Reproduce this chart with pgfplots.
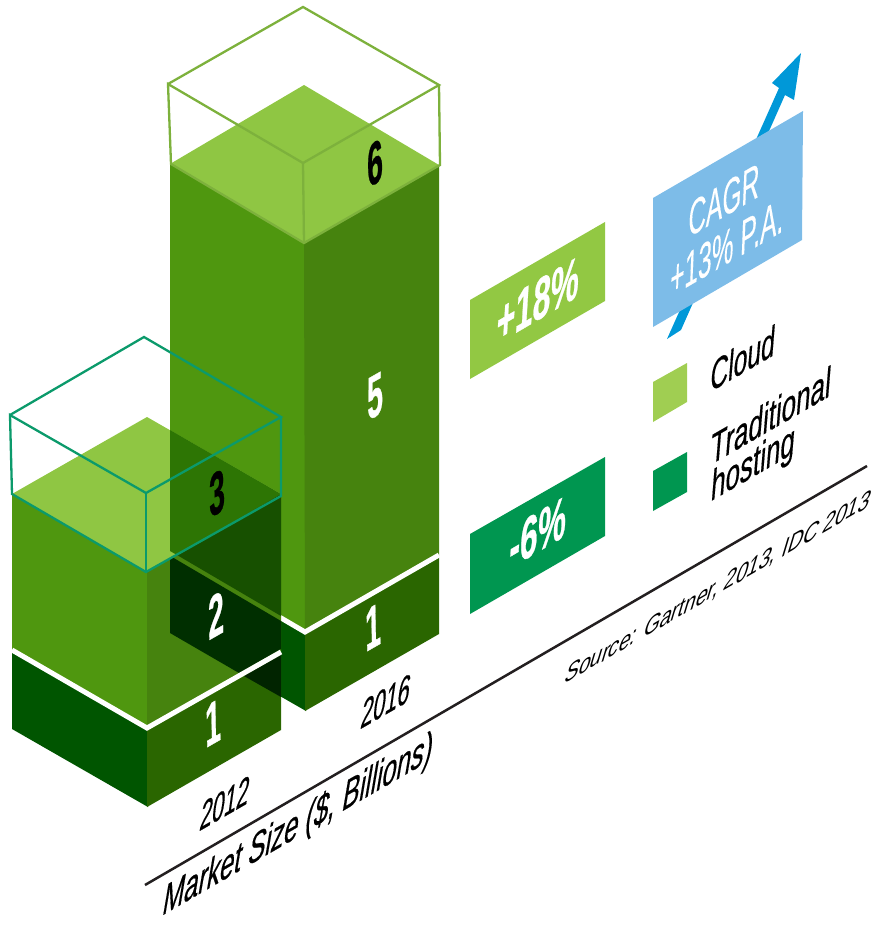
\documentclass[border=0pt]{standalone}
\usepackage{pgfplots}
\pgfplotsset{compat=1.18}
\usepackage{fontspec}
\setmainfont{Liberation Sans}
\newfontfamily\light[FakeBold=0.2]{Liberation Sans}
\newfontfamily\medium[FakeBold=0.5]{Liberation Sans}
\newfontfamily\heavy[FakeBold=0.8]{Liberation Sans Bold}
% face colours
\definecolor{cloudTop}{HTML}{8FC643}
\definecolor{cloudLeft}{HTML}{4F970F}
\definecolor{cloudRight}{HTML}{46830E}
\definecolor{tradLeft}{HTML}{005500}
\definecolor{tradRight}{HTML}{2A6600}
\definecolor{ovTop}{HTML}{2D7504}
\definecolor{ovCloud}{HTML}{175000}
\definecolor{ovTrad}{HTML}{002F00}
\definecolor{ovBase}{HTML}{012400}
\definecolor{frameA}{HTML}{0B9A6B}
\definecolor{frameB}{HTML}{7DB13C}
\definecolor{tagCloud}{HTML}{92C843}
\definecolor{tagTrad}{HTML}{009650}
\definecolor{legCloud}{HTML}{A0CE52}
\definecolor{tagBlue}{HTML}{7DBCE8}
\definecolor{arrowBlue}{HTML}{0098D8}
\definecolor{rule}{HTML}{231F20}
% isometric lettering: baseline climbs at 30 degrees, stems stay near vertical
\tikzset{
  digit/.style={inner sep=0pt,cm={0.47,0.27,-0.02,1,(0,0)},font=\fontsize{60}{64}\heavy},
  tagtext/.style={inner sep=0pt,cm={0.53,0.31,0.06,1,(0,0)},font=\fontsize{60}{64}\heavy,text=white},
  blue/.style={inner sep=0pt,align=center,cm={0.49,0.285,0.04,1,(0,0)},font=\fontsize{50}{52}\light,text=white},
  year/.style={inner sep=0pt,cm={0.52,0.30,0.14,1,(0,0)},font=\fontsize{42}{46}\medium},
  axl/.style={inner sep=0pt,cm={0.57,0.33,0.17,1,(0,0)},font=\fontsize{45}{50}\medium},
  leg/.style={inner sep=0pt,align=left,cm={0.56,0.325,0.08,1,(0,0)},font=\fontsize{44}{46}\medium},
  legwide/.style={inner sep=0pt,align=left,cm={0.59,0.34,0.08,1,(0,0)},font=\fontsize{44}{46}\medium},
  src/.style={inner sep=0pt,cm={0.74,0.43,0.3,1,(0,0)},font=\fontsize{28}{30}\selectfont},
}
\pgfplotsset{
  face/.style={fill=#1,draw=none,no markers,line width=0pt},
  edge/.style={draw=#1,line width=2.3pt,no markers,fill=none,line join=miter},
}
\begin{document}
\begin{tikzpicture}
\useasboundingbox (0,0) rectangle (873pt,925pt);
\begin{axis}[
  at={(0,0)},anchor=south west,
  scale only axis,width=873pt,height=925pt,
  xmin=0,xmax=873,ymin=0,ymax=925,y dir=reverse,
  hide axis,clip=true]

% 2016 column: left faces run a pixel under the right faces so no seam shows
\addplot[face=cloudLeft] coordinates {(170,164)(305,243)(306,632)(170,553)};
\addplot[face=cloudRight] coordinates {(304,243)(439,165)(439,555)(305,632)};
\addplot[face=cloudTop] coordinates {(304,85)(439,165)(304,243)(170,164)};
\addplot[face=tradLeft] coordinates {(170,553)(306,632)(306,711)(170,633)};
\addplot[face=tradRight] coordinates {(305,632)(439,555)(439,634)(305,711)};
\addplot[draw=white,line width=5pt,no markers] coordinates {(170,553)(305,632)(439,555)};

% 2012 column
\addplot[face=cloudLeft] coordinates {(12,494)(148,572)(148,728)(12,650)};
\addplot[face=cloudRight] coordinates {(147,572)(281,494)(281,652)(147,728)};
\addplot[face=cloudTop] coordinates {(147,417)(281,494)(147,572)(12,494)};

% where the 2012 column passes in front of the 2016 column
\addplot[face=ovTop] coordinates {(170,430)(281,494)(177,555)(170,551)};
\addplot[face=ovCloud] coordinates {(177,555)(281,494)(281,616)};
\addplot[face=ovTrad] coordinates {(170,559)(172,557)(281,621)(281,649)(239,673)(170,633)};

\addplot[face=tradLeft] coordinates {(12,650)(148,728)(148,807)(12,729)};
\addplot[face=tradRight] coordinates {(147,728)(281,652)(281,730)(147,807)};
\addplot[face=ovBase] coordinates {(244,676)(281,655)(281,697)};
\addplot[draw=white,line width=5pt,no markers] coordinates {(12,650)(147,728)(281,652)};

% wire frames above the columns
\addplot[edge=frameB] coordinates {(168,84)(303,7)(439,85)(303,163)(168,84)(171,164)(304,243)(440,165)(439,85)};
\addplot[edge=frameB] coordinates {(303,163)(304,243)};
\addplot[edge=frameA] coordinates {(10,415)(144,337)(281,417)(146,493)(10,415)(12,494)(146,572)(281,496)(281,417)};
\addplot[edge=frameA] coordinates {(146,493)(146,572)};

% growth tags
\addplot[face=tagCloud] coordinates {(470,300)(605,222)(605,301)(470,379)};
\addplot[face=tagTrad] coordinates {(470,534)(605,457)(605,536)(470,614)};

% CAGR arrow and panel
\addplot[face=arrowBlue] coordinates {(667,339)(681,330)(785,95)(794,100)(801,53)(772,83)(779,88)};
\addplot[face=tagBlue] coordinates {(653,198)(803,111)(802,240)(653,327)};

% legend swatches
\addplot[face=legCloud] coordinates {(653,382)(687,363)(687,402)(653,422)};
\addplot[face=tagTrad] coordinates {(653,471)(687,452)(687,492)(653,511)};

% base rule
\addplot[draw=rule,line width=2.5pt,no markers] coordinates {(145,885)(867,466)};

% value labels
\node[digit,text=white] at (axis cs:213,723) {1};
\node[digit,text=white] at (axis cs:216,615) {2};
\node[digit,text=black] at (axis cs:217,493) {3};
\node[digit,text=white] at (axis cs:375,396) {5};
\node[digit,text=white] at (axis cs:373,627) {1};
\node[digit,text=black] at (axis cs:375,163) {6};

\node[year] at (axis cs:225,803) {2012};
\node[year] at (axis cs:386,701) {2016};
\node[axl] at (axis cs:298,826) {Market Size (\$, Billions)};
\node[src] at (axis cs:718,588) {Source: Gartner, 2013, IDC 2013};

\node[tagtext] at (axis cs:538,300) {+18\%};
\node[tagtext] at (axis cs:538,532) {-6\%};
\node[blue] at (axis cs:724,200) {CAGR};
\node[blue] at (axis cs:727,247) {+13\% P.A.};
\node[leg] at (axis cs:743,358) {Cloud};
\node[legwide] at (axis cs:771,415) {Traditional};
\node[legwide] at (axis cs:753,466) {hosting};
\end{axis}
\end{tikzpicture}
\end{document}
